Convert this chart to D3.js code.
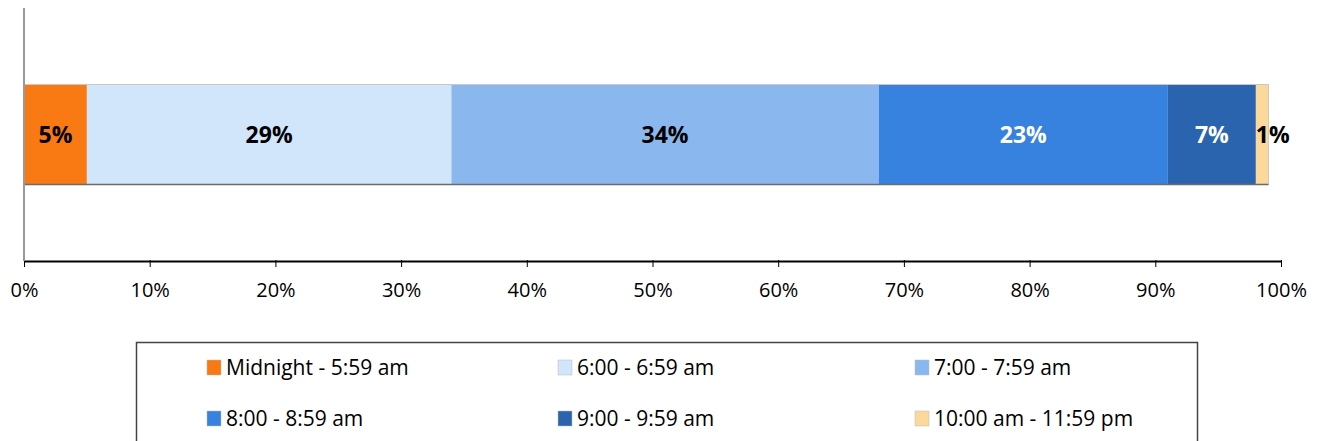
<!DOCTYPE html>
<html>
<head>
<meta charset="utf-8">
<script src="https://cdn.jsdelivr.net/npm/d3@7"></script>
<style>
  body { margin: 0; background: #fff; }
  svg text { font-family: "Open Sans", sans-serif; }
</style>
</head>
<body>
<div id="chart"></div>
<script>
// data
var categories = ["Midnight - 5:59 am", "6:00 - 6:59 am", "7:00 - 7:59 am",
                  "8:00 - 8:59 am", "9:00 - 9:59 am", "10:00 am - 11:59 pm"];
var shares = [5, 29, 34, 23, 7, 1];
var colors = ["#f97a12", "#d1e5fb", "#8ab8ee", "#3782de", "#2a63ae", "#fbd99a"];
var labelColors = ["#000", "#000", "#000", "#fff", "#fff", "#000"];
var tickValues = [0, 10, 20, 30, 40, 50, 60, 70, 80, 90, 100];

var svgWidth = 1319;
var svgHeight = 441;

var margin = { top: 8, right: 38, bottom: 180, left: 24 };
var chartWidth = svgWidth - margin.left - margin.right;
var chartHeight = svgHeight - margin.top - margin.bottom;

var svg = d3.select("#chart")
  .append("svg")
  .attr("width", svgWidth)
  .attr("height", svgHeight);

var chartGroup = svg.append("g")
  .attr("transform", `translate(${margin.left}, ${margin.top})`);

var xScale = d3.scaleLinear()
  .domain([0, 100])
  .range([0, chartWidth]);

var yScale = d3.scaleBand()
  .domain(["all"])
  .range([0, chartHeight])
  .paddingInner(0)
  .paddingOuter(0.765);

// stack the shares
var segs = [];
var run = 0;
shares.forEach(function(v, i) {
  segs.push({ name: categories[i], value: v, x0: run, x1: run + v, i: i });
  run += v;
});

// bars
chartGroup.selectAll("rect.seg")
  .data(segs)
  .enter()
  .append("rect")
  .attr("class", "seg")
  .attr("x", d => xScale(d.x0))
  .attr("y", yScale("all"))
  .attr("width", d => xScale(d.x1) - xScale(d.x0))
  .attr("height", yScale.bandwidth())
  .attr("fill", d => colors[d.i]);

// thin outline + bottom shadow on the bar
chartGroup.append("rect")
  .attr("x", xScale(0))
  .attr("y", yScale("all"))
  .attr("width", xScale(run) - xScale(0))
  .attr("height", yScale.bandwidth())
  .attr("fill", "none")
  .attr("stroke", "#c8c8c8")
  .attr("stroke-width", 1);

chartGroup.append("line")
  .attr("x1", xScale(0))
  .attr("x2", xScale(run))
  .attr("y1", yScale("all") + yScale.bandwidth())
  .attr("y2", yScale("all") + yScale.bandwidth())
  .attr("stroke", "#6b6b6b")
  .attr("stroke-width", 1.5);

// value labels
chartGroup.selectAll("text.val")
  .data(segs)
  .enter()
  .append("text")
  .attr("class", "val")
  .attr("x", d => d.value < 3 ? xScale(d.x0) : xScale((d.x0 + d.x1) / 2))
  .attr("y", yScale("all") + yScale.bandwidth() / 2)
  .attr("dy", "0.36em")
  .attr("text-anchor", d => d.value < 3 ? "start" : "middle")
  .attr("font-size", "23px")
  .attr("font-weight", "bold")
  .attr("fill", d => labelColors[d.i])
  .text(d => d.value + "%");

// axes
var xAxis = d3.axisBottom(xScale)
  .tickValues(tickValues)
  .tickFormat(d => d + "%")
  .tickSize(6)
  .tickSizeOuter(0);

var xg = chartGroup.append("g")
  .attr("transform", `translate(0, ${chartHeight})`)
  .call(xAxis);
xg.select(".domain").attr("stroke", "#000").attr("stroke-width", 2);
xg.selectAll(".tick line").attr("stroke", "#000").attr("y1", -1);
xg.selectAll(".tick text")
  .attr("font-size", "20px")
  .attr("font-family", "Open Sans")
  .attr("fill", "#000")
  .attr("dy", "0")
  .attr("y", 36);

chartGroup.append("line")
  .attr("x1", 0)
  .attr("x2", 0)
  .attr("y1", 0)
  .attr("y2", chartHeight)
  .attr("stroke", "#999")
  .attr("stroke-width", 2);

// legend
var legend = svg.append("g");
legend.append("rect")
  .attr("x", 136.5)
  .attr("y", 342.5)
  .attr("width", 1061)
  .attr("height", 120)
  .attr("fill", "none")
  .attr("stroke", "#444")
  .attr("stroke-width", 1.5);

var colX = [207, 558, 915];
var rowY = [360, 411];

var items = legend.selectAll("g.item")
  .data(categories)
  .enter()
  .append("g")
  .attr("class", "item")
  .attr("transform", (d, i) => `translate(${colX[i % 3]}, ${rowY[Math.floor(i / 3)]})`);

items.append("rect")
  .attr("width", 14)
  .attr("height", 15)
  .attr("fill", (d, i) => colors[i])
  .attr("stroke", "#bbb")
  .attr("stroke-width", 0.5);

items.append("text")
  .attr("x", 19)
  .attr("y", 15)
  .attr("font-size", "21px")
  .attr("fill", "#000")
  .text(d => d);
</script>
</body>
</html>
